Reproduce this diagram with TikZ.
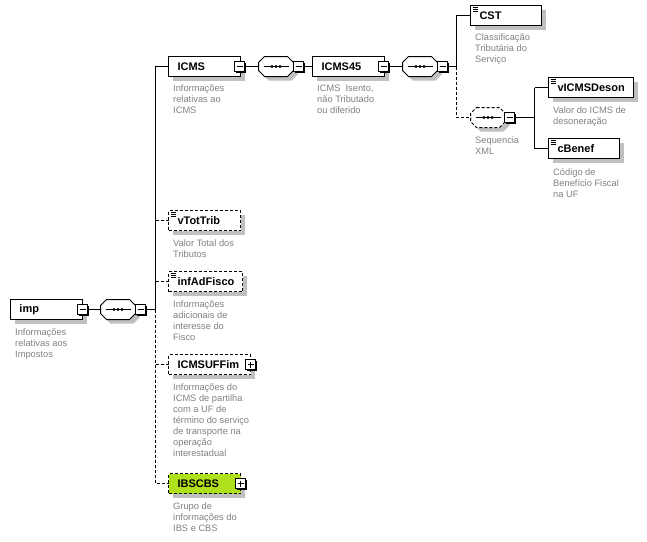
\documentclass[tikz,border=0pt]{standalone}
\usepackage{fontspec}
\usepackage{xcolor}
\setmainfont{Liberation Sans}
\usetikzlibrary{shadows}
\definecolor{shadowgray}{HTML}{C0C0C0}
\definecolor{notegray}{HTML}{808080}
\definecolor{ibsgreen}{HTML}{AEE01C}

\tikzset{
  elem/.style={draw=black, fill=white, rectangle, anchor=west, line width=1pt, outer sep=0pt,
    minimum height=20pt, inner xsep=9pt, inner ysep=0pt, text width=#1-18pt, align=left,
    font=\fontsize{11pt}{11pt}\selectfont\bfseries,
    drop shadow={shadow xshift=4pt, shadow yshift=-4pt, fill=shadowgray, opacity=1}},
  optional/.style={dash pattern=on 3pt off 2pt},
  seqspot/.style={rectangle, anchor=west, minimum width=35pt, minimum height=20pt,
    inner sep=0pt, outer sep=0pt},
  seqbox/.style={draw=black, fill=white, line width=1pt,
    drop shadow={shadow xshift=4pt, shadow yshift=-4pt, fill=shadowgray, opacity=1}},
  toggle/.style={draw=black, fill=white, rectangle, line width=1pt, minimum size=10pt,
    inner sep=0pt, outer sep=0pt,
    drop shadow={shadow xshift=1.5pt, shadow yshift=-1.5pt, fill=black, opacity=1}},
  togminus/.style={toggle, path picture={
    \draw[line width=1pt] ([xshift=2pt]path picture bounding box.west) -- ([xshift=-2pt]path picture bounding box.east);}},
  togplus/.style={toggle, path picture={
    \draw[line width=1pt] ([xshift=2pt]path picture bounding box.west) -- ([xshift=-2pt]path picture bounding box.east);
    \draw[line width=1pt] ([yshift=-2pt]path picture bounding box.north) -- ([yshift=2pt]path picture bounding box.south);}},
  note/.style={anchor=north west, inner sep=0pt, align=left, text=notegray,
    font=\fontsize{9.3pt}{11pt}\selectfont},
  wire/.style={line width=1pt}
}

\begin{document}
\begin{tikzpicture}[x=1pt, y=-1pt]
  \useasboundingbox (0,0) rectangle (647,541);

  % root element
  \node[elem=72pt] (imp) at (10.5,309.5) {imp};
  \node[seqspot] (impSeq) at (100.5,309.5) {};
  \coordinate (trunk) at (155.5,309.5);

  % children of the root
  \node[elem=72pt] (icms) at (168.5,66.5) {ICMS};
  \node[seqspot] (icmsSeq) at (258.5,66.5) {};
  \node[elem=72pt] (icms45) at (312.5,66.5) {ICMS45};
  \node[seqspot] (icms45Seq) at (402.5,66.5) {};
  \coordinate (branch) at (456.5,66.5);

  \node[elem=72pt, optional] (vTotTrib) at (168.5,220.5) {vTotTrib};
  \node[elem=74pt, optional] (infAdFisco) at (168.5,281.5) {infAdFisco};
  \node[elem=82pt, optional] (icmsUF) at (168.5,364.5) {ICMSUFFim};
  \node[elem=72pt, optional, fill=ibsgreen] (ibs) at (168.5,483.5) {IBSCBS};

  % right hand side
  \node[elem=71pt] (cst) at (470.5,15.5) {CST};
  \node[seqspot] (xmlSeq) at (470.5,117.5) {};
  \coordinate (leaf) at (534.5,117.5);
  \node[elem=85pt] (vicms) at (548.5,87.5) {vICMSDeson};
  \node[elem=71pt] (cbenef) at (548.5,148.5) {cBenef};

  % sequence shapes
  \foreach \s/\o in {impSeq/solid,icmsSeq/solid,icms45Seq/solid,xmlSeq/optional} {
    \path[seqbox, \o] ([xshift=6pt]\s.north west) -- ([xshift=-6pt]\s.north east)
      -- ([yshift=-6pt]\s.north east) -- ([yshift=6pt]\s.south east)
      -- ([xshift=-6pt]\s.south east) -- ([xshift=6pt]\s.south west)
      -- ([yshift=6pt]\s.south west) -- ([yshift=-6pt]\s.north west) -- cycle;
    \draw[wire] ([xshift=5pt]\s.west) -- ([xshift=-5pt]\s.east);
    \foreach \d in {-4,0,4}
      \fill ([xshift=\d pt]\s.center) circle (1.6pt);
  }

  % toggles
  \node[togminus] (impT) at (82.5,309.5) {};
  \node[togminus] (impSeqT) at (140.5,309.5) {};
  \node[togminus] (icmsT) at (239.5,66.5) {};
  \node[togminus] (icmsSeqT) at (298.5,66.5) {};
  \node[togminus] (icms45T) at (383.5,66.5) {};
  \node[togminus] (icms45SeqT) at (442.5,66.5) {};
  \node[togminus] (xmlSeqT) at (509.5,117.5) {};
  \node[togplus] (icmsUFT) at (250.5,364.5) {};
  \node[togplus] (ibsT) at (240.5,483.5) {};

  % connectors
  \draw[wire] (impT) -- (impSeq);
  \draw[wire] (impSeqT) -- (trunk);
  \draw[wire] (trunk) -- (trunk |- icms) -- (icms);
  \draw[wire, optional] (trunk) -- (trunk |- ibs) -- (ibs);
  \draw[wire, optional] (trunk |- vTotTrib) -- (vTotTrib);
  \draw[wire, optional] (trunk |- infAdFisco) -- (infAdFisco);
  \draw[wire, optional] (trunk |- icmsUF) -- (icmsUF);
  \draw[wire] (icmsT) -- (icmsSeq);
  \draw[wire] (icmsSeqT) -- (icms45);
  \draw[wire] (icms45T) -- (icms45Seq);
  \draw[wire] (icms45SeqT) -- (branch);
  \draw[wire] (branch) -- (branch |- cst) -- (cst);
  \draw[wire, optional] (branch) -- (branch |- xmlSeq) -- (xmlSeq);
  \draw[wire] (xmlSeqT) -- (leaf);
  \draw[wire] (leaf |- vicms) -- (vicms);
  \draw[wire] (leaf |- vicms) -- (leaf |- cbenef) -- (cbenef);

  % documentation marks
  \foreach \e in {cst,vicms,cbenef,vTotTrib,infAdFisco} {
    \foreach \d in {2,4,6}
      \draw[line width=0.8pt] ([xshift=2pt,yshift=-\d pt]\e.north west) -- ([xshift=7pt,yshift=-\d pt]\e.north west);
  }

  % descriptions
  \node[note] (impN) at (15,329) {Informações\\relativas aos\\Impostos};
  \node[note] (icmsN) at (173,85) {Informações\\relativas ao\\ICMS};
  \node[note] (icms45N) at (317,85) {ICMS\ \ Isento,\\não Tributado\\ou diferido};
  \node[note] (cstN) at (475,34) {Classificação\\Tributária do\\Serviço};
  \node[note] (xmlN) at (475,137) {Sequencia\\XML};
  \node[note] (vicmsN) at (553,107) {Valor do ICMS de\\desoneração};
  \node[note] (cbenefN) at (553,168) {Código de\\Benefício Fiscal\\na UF};
  \node[note] (vTotTribN) at (173,240) {Valor Total dos\\Tributos};
  \node[note] (infAdFiscoN) at (173,301) {Informações\\adicionais de\\interesse do\\Fisco};
  \node[note] (icmsUFN) at (173,384) {Informações do\\ICMS de partilha\\com a UF de\\término do serviço\\de transporte na\\operação\\interestadual};
  \node[note] (ibsN) at (173,503) {Grupo de\\informações do\\IBS e CBS};
\end{tikzpicture}
\end{document}
